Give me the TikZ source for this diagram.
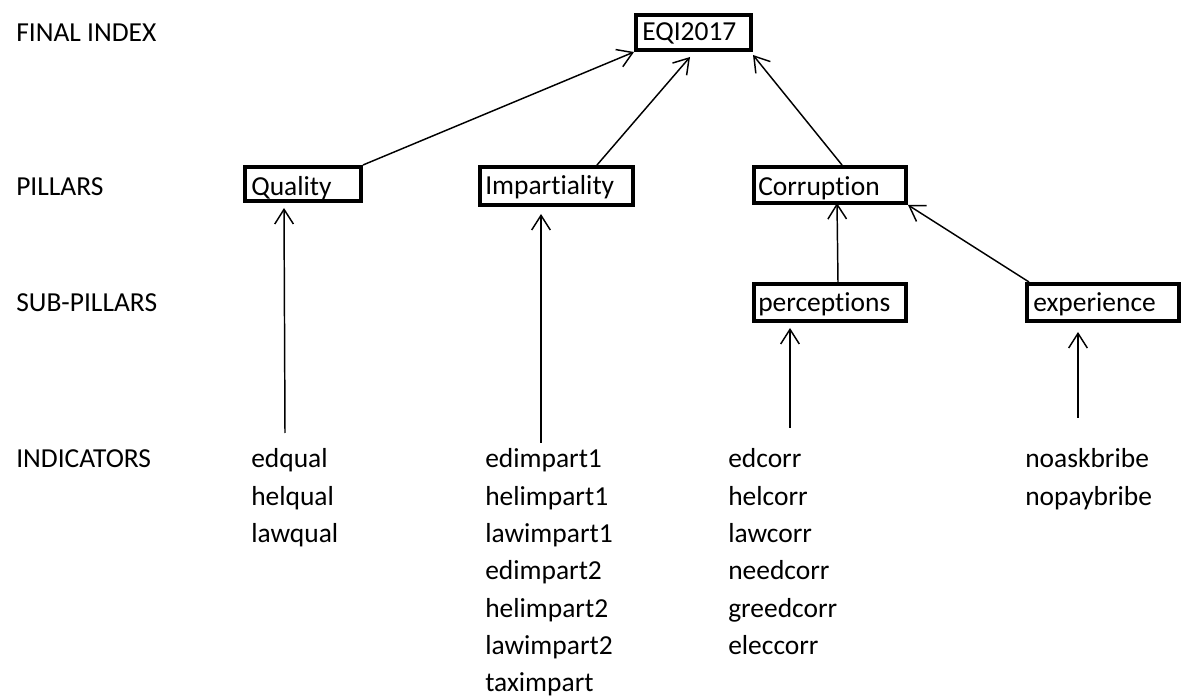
\documentclass[tikz,border=0pt]{standalone}
\usepackage{fontspec}
\setmainfont{Carlito}[Ligatures=NoCommon,RawFeature=-liga]
\usetikzlibrary{arrows.meta,calc}
\begin{document}
\begin{tikzpicture}[x=0.75pt,y=-0.75pt,
  box/.style={draw, line width=3pt, inner sep=0pt, outer sep=1.5pt},
  txt/.style={inner sep=0pt, anchor=base west, font=\fontsize{20.6}{24}\selectfont},
  arr/.style={line width=1.1pt, -{Straight Barb[length=11pt,width=14pt]}}]
\useasboundingbox (0,0) rectangle (1182,698);
% boxes
\node[box, minimum width=115*0.75pt, minimum height=35*0.75pt] (eqi) at (693.5,32.5) {};
\node[box, minimum width=116*0.75pt, minimum height=34*0.75pt] (qual) at (303,184) {};
\node[box, minimum width=153*0.75pt, minimum height=38*0.75pt] (imp) at (556.5,186) {};
\node[box, minimum width=152*0.75pt, minimum height=36*0.75pt] (corr) at (830,185) {};
\node[box, minimum width=152*0.75pt, minimum height=37*0.75pt] (perc) at (830,302.5) {};
\node[box, minimum width=152*0.75pt, minimum height=37*0.75pt] (exp) at (1103,302.5) {};
% box texts
\node[txt] (teqi) at (642,41) {EQI2017};
\node[txt] (tqual) at (251,196) {Quality};
\node[txt] (timp) at (485,195) {Impart\kern0pt iality};
\node[txt] (tcorr) at (758,196) {Corrupt\kern0pt ion};
\node[txt] (tperc) at (758,312) {percept\kern0pt ions};
\node[txt] (texp) at (1033,312) {experience};
% row labels
\node[txt] (l1) at (16,42) {FINAL INDEX};
\node[txt] (l2) at (16,196) {PILLARS};
\node[txt] (l3) at (16,312) {SUB-PILLARS};
\node[txt] (l4) at (16,468) {INDICATORS};
% indicators
\foreach \t [count=\i from 0] in {edqual,helqual,lawqual}
  \node[txt] (q\i) at (251,468+37.3*\i) {\t};
\foreach \t [count=\i from 0] in {edimpart1,helimpart1,lawimpart1,edimpart2,helimpart2,lawimpart2,taximpart}
  \node[txt] (i\i) at (485,468+37.3*\i) {\t};
\foreach \t [count=\i from 0] in {edcorr,helcorr,lawcorr,needcorr,greedcorr,eleccorr}
  \node[txt] (c\i) at (728,468+37.3*\i) {\t};
\foreach \t [count=\i from 0] in {noaskbribe,nopaybribe}
  \node[txt] (e\i) at (1025,468+37.3*\i) {\t};
% connectors
\draw[arr] (qual.north east) -- (eqi.south west);
\draw[arr] ([shift={(40.5,0)}]imp.north) -- ([shift={(-3.5,5)}]eqi.south);
\draw[arr] ([shift={(12,0)}]corr.north) -- ([shift={(0,3)}]eqi.south east);
\draw[arr] ([shift={(8,0)}]perc.north) -- ([shift={(7,-2)}]corr.south);
\draw[arr] ([shift={(4,0)}]exp.north west) -- (corr.south east);
\coordinate (qbot) at (285,433);
\coordinate (ibot) at (541,443);
\coordinate (pbot) at (790,428);
\coordinate (ebot) at (1078,418);
\draw[arr] (qbot) -- ([shift={(-19,5)}]qual.south);
\draw[arr] (ibot) -- ([shift={(-15.5,7)}]imp.south);
\draw[arr] (pbot) -- ([shift={(-40,5)}]perc.south);
\draw[arr] (ebot) -- ([shift={(-25,9)}]exp.south);
\end{tikzpicture}
\end{document}
